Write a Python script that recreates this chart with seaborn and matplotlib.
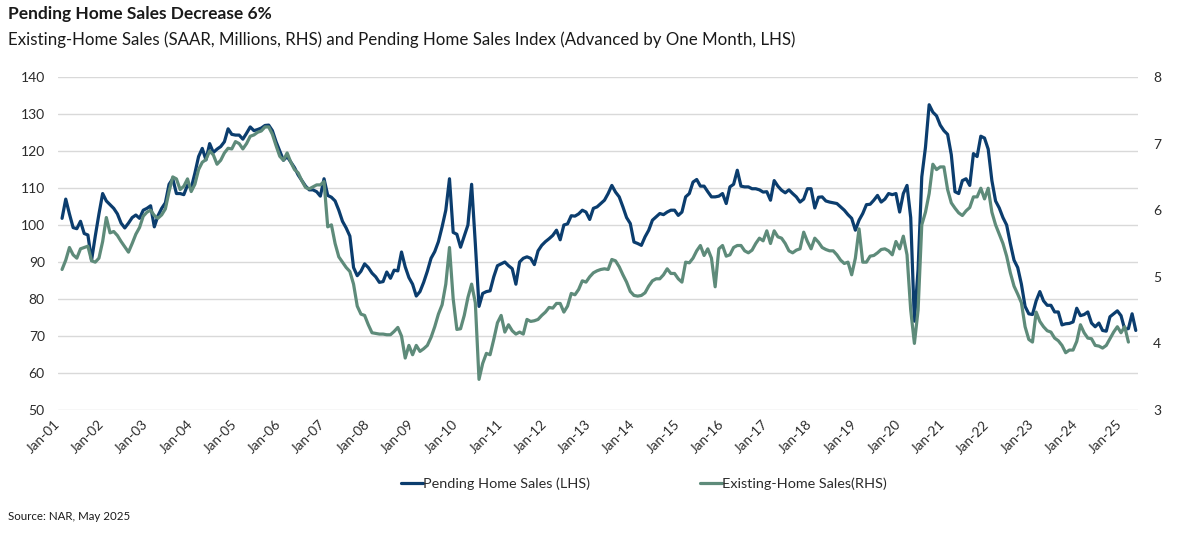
import matplotlib
matplotlib.use("Agg")
import matplotlib.pyplot as plt
import seaborn as sns
import pandas as pd
import numpy as np

# Pending Home Sales Index (LHS), monthly Jan-01 .. Apr-25
pending = [
    101.8, 107, 103, 99.3, 99, 101, 97.7, 97.3, 90.5, 97, 103, 108.5,
    106.5, 105.5, 104.5, 103, 100.5, 99.2, 100.5, 102, 102.7, 101.8, 104, 104.5,
    105.2, 99.5, 102.5, 104.5, 106, 111, 112.5, 108.5, 108.5, 108.2, 110.8, 110,
    114, 118.5, 120.7, 117.6, 122, 119.6, 120.5, 121.2, 122.5, 126, 124.5, 124.3,
    124.3, 123.2, 124.8, 126.5, 125.5, 125.8, 126.2, 126.9, 127, 125.5, 122.5, 120,
    117.5, 118.5, 117, 115.5, 113.5, 112, 110.5, 109.5, 109.5, 109, 107.8, 112.5,
    108, 107.5, 106.5, 104, 101, 99.2, 97, 88.5, 86.3, 87.5, 89.5, 88.5,
    87, 86, 84.5, 84.7, 87.3, 85.6, 87.8, 87.6, 92.7, 88.7, 85.8, 84,
    80.8, 82, 84.5, 87.5, 91, 92.8, 95.5, 99.5, 104, 112.5, 98, 97.5,
    94, 97, 100, 111, 95, 78, 81.5, 82, 82.2, 86, 89, 89.5,
    90, 89, 88.2, 84, 90, 91, 91.4, 91, 89.3, 93, 94.5, 95.5,
    96.3, 97.2, 98.6, 96, 100, 100.3, 102.5, 102.4, 103, 104, 103.5, 101.5,
    104.5, 104.9, 105.8, 106.7, 108.5, 110.7, 108.9, 107.6, 104.9, 102, 100.4, 95.4,
    95, 94.5, 96.8, 98.6, 101.3, 102.2, 103.1, 102.8, 103.5, 104, 104, 102.6,
    103.5, 107.6, 108.5, 111.6, 112.3, 110.5, 110.5, 109, 107.6, 107.6, 107.8, 108.5,
    105.8, 110.3, 111, 114.8, 110.5, 110.3, 110.3, 109.8, 109.8, 109.5, 108.9, 109,
    106.7, 112, 110.5, 109.4, 108.7, 109.5, 108.5, 107.6, 106.2, 107, 109.8, 109.8,
    104.6, 107.5, 107.6, 106.5, 106.2, 106, 105.8, 104.9, 104, 102.8, 101.8, 98.6,
    101.3, 103.1, 105.5, 105.6, 106.7, 108, 106.2, 107, 108.5, 108.2, 108.5, 103.5,
    108.5, 110.7, 102, 74, 88, 113, 121, 132.5, 130.5, 129.5, 127, 125.5,
    124.5, 119, 109, 108.5, 112, 112.5, 110.7, 119.3, 118.5, 124, 123.5, 120.5,
    112, 106.5, 104.6, 102, 100, 95, 90.5, 88.5, 84, 78, 76, 75.8,
    79.5, 82, 79.5, 78.3, 78.3, 76.5, 76.5, 73, 73.3, 73.4, 73.8, 77.5,
    75.5, 75.8, 76.5, 73.5, 72.5, 73.5, 71.5, 71.3, 75.2, 76, 76.8, 75.5,
    71.8, 72, 76, 71.5,
]

# Existing-Home Sales, SAAR millions (RHS), monthly Jan-01 .. Feb-25
existing = [
    5.11, 5.25, 5.44, 5.33, 5.28, 5.42, 5.44, 5.46, 5.24, 5.22, 5.28, 5.53,
    5.89, 5.66, 5.68, 5.62, 5.53, 5.45, 5.37, 5.50, 5.64, 5.74, 5.91, 5.97,
    6.00, 5.92, 5.88, 5.93, 6.02, 6.28, 6.50, 6.47, 6.31, 6.36, 6.47, 6.28,
    6.39, 6.61, 6.72, 6.76, 6.89, 6.83, 6.69, 6.75, 6.86, 6.93, 6.92, 7.03,
    7.00, 6.92, 7.00, 7.11, 7.13, 7.17, 7.19, 7.25, 7.25, 7.14, 6.97, 6.81,
    6.75, 6.86, 6.72, 6.61, 6.56, 6.44, 6.34, 6.32, 6.35, 6.38, 6.38, 6.43,
    5.75, 5.78, 5.50, 5.30, 5.22, 5.14, 5.08, 4.89, 4.56, 4.44, 4.42, 4.28,
    4.16, 4.15, 4.14, 4.14, 4.13, 4.13, 4.18, 4.24, 4.11, 3.78, 3.97, 3.83,
    3.97, 3.88, 3.92, 3.97, 4.09, 4.25, 4.44, 4.58, 4.89, 5.44, 4.67, 4.21,
    4.22, 4.42, 4.69, 4.89, 4.61, 3.46, 3.70, 3.85, 3.83, 4.06, 4.31, 4.42,
    4.17, 4.28, 4.19, 4.14, 4.17, 4.14, 4.36, 4.33, 4.34, 4.36, 4.42, 4.47,
    4.54, 4.53, 4.60, 4.60, 4.47, 4.56, 4.75, 4.73, 4.81, 4.94, 4.92, 5.00,
    5.06, 5.09, 5.11, 5.12, 5.11, 5.26, 5.24, 5.15, 5.03, 4.92, 4.78, 4.72,
    4.71, 4.72, 4.76, 4.86, 4.94, 4.97, 4.97, 5.03, 5.12, 5.05, 5.05, 4.97,
    4.92, 5.22, 5.21, 5.28, 5.39, 5.47, 5.32, 5.42, 5.28, 4.85, 5.42, 5.47,
    5.31, 5.33, 5.44, 5.47, 5.47, 5.39, 5.36, 5.40, 5.50, 5.58, 5.54, 5.69,
    5.50, 5.69, 5.60, 5.58, 5.50, 5.39, 5.36, 5.40, 5.42, 5.67, 5.53, 5.42,
    5.58, 5.52, 5.44, 5.41, 5.39, 5.39, 5.33, 5.25, 5.20, 5.22, 5.03, 5.28,
    5.72, 5.22, 5.22, 5.31, 5.32, 5.36, 5.41, 5.42, 5.39, 5.33, 5.53, 5.42,
    5.61, 5.33, 4.50, 4.00, 4.50, 5.78, 5.97, 6.25, 6.69, 6.61, 6.65, 6.65,
    6.31, 6.11, 6.03, 5.96, 5.92, 5.99, 6.04, 6.20, 6.20, 6.33, 6.17, 6.33,
    5.97, 5.78, 5.64, 5.50, 5.31, 5.06, 4.86, 4.74, 4.61, 4.25, 4.06, 4.02,
    4.47, 4.33, 4.25, 4.19, 4.17, 4.08, 4.04, 3.97, 3.86, 3.90, 3.90, 4.03,
    4.28, 4.16, 4.08, 4.07, 3.97, 3.96, 3.93, 3.97, 4.07, 4.17, 4.25, 4.16,
    4.25, 4.02,
]

tick_labels = ["Jan-01", "Jan-02", "Jan-03", "Jan-04", "Jan-05", "Jan-06", "Jan-07",
               "Jan-08", "Jan-09", "Jan-10", "Jan-11", "Jan-12", "Jan-13", "Jan-14",
               "Jan-15", "Jan-16", "Jan-17", "Jan-18", "Jan-19", "Jan-20", "Jan-21",
               "Jan-22", "Jan-23", "Jan-24", "Jan-25"]
left_ticks = [50, 60, 70, 80, 90, 100, 110, 120, 130, 140]
right_ticks = [3, 4, 5, 6, 7, 8]

title = "Pending Home Sales Decrease 6%"
subtitle = "Existing-Home Sales (SAAR, Millions, RHS) and Pending Home Sales Index (Advanced by One Month, LHS)"
source = "Source: NAR, May 2025"
label_p = "Pending Home Sales (LHS)"
label_e = "Existing-Home Sales(RHS)"

BLUE = "#0B3D6E"
GREEN = "#5E8B7A"
TXT = "#2B2B2B"
GRID = "#D9D9D9"

sns.set_theme(style="white")
plt.rcParams["font.family"] = ["Lato", "DejaVu Sans"]

df_p = pd.DataFrame({"m": np.arange(len(pending)), "v": pending})
df_e = pd.DataFrame({"m": np.arange(len(existing)), "v": existing})

W, H = 1184, 533
fig = plt.figure(figsize=(W / 100, H / 100), dpi=100)
ax = fig.add_axes([58 / W, 1 - 410 / H, (1138 - 58) / W, (410 - 77) / H])
ax2 = ax.twinx()

sns.lineplot(data=df_p, x="m", y="v", ax=ax, color=BLUE, linewidth=2.3, legend=False)
sns.lineplot(data=df_e, x="m", y="v", ax=ax2, color=GREEN, linewidth=2.3, legend=False)

ax.set_xlim(-1.1, 291.6)
ax.set_ylim(50, 140)
ax2.set_ylim(3, 8)
ax.set_yticks(left_ticks)
ax2.set_yticks(right_ticks)
ax.set_xticks(np.arange(len(tick_labels)) * 12)
ax.set_xticklabels(tick_labels, rotation=45, ha="right")
for a in (ax, ax2):
    a.set_xlabel("")
    a.set_ylabel("")
    for s in a.spines.values():
        s.set_visible(False)
ax.set_axisbelow(True)
ax.grid(True, axis="y", color=GRID, linewidth=1.0)
ax.grid(False, axis="x")
ax2.grid(False)
ax.tick_params(axis="y", length=0, pad=9.5, labelsize=10, labelcolor=TXT)
ax.tick_params(axis="x", length=0, pad=6, labelsize=9.8, labelcolor=TXT)
ax2.tick_params(axis="y", length=0, pad=11, labelsize=10, labelcolor=TXT)

fig.text(8 / W, 1 - 14 / H, title, fontsize=12.5, fontweight="bold", color="#1A1A1A", va="center", ha="left")
fig.text(8 / W, 1 - 40 / H, subtitle, fontsize=12.2, color="#1A1A1A", va="center", ha="left")
fig.text(8 / W, 1 - 516 / H, source, fontsize=8.3, color="#1A1A1A", va="center", ha="left")

h1 = ax.get_lines()[0]
h2 = ax2.get_lines()[0]
fig.legend([h1, h2], [label_p, label_e], loc="center", bbox_to_anchor=(644 / W, 1 - 484 / H),
           ncol=2, frameon=False, fontsize=10.4, labelcolor=TXT, handlelength=1.5,
           handletextpad=0.05, columnspacing=7.6)

fig.savefig("out.png", dpi=100)
